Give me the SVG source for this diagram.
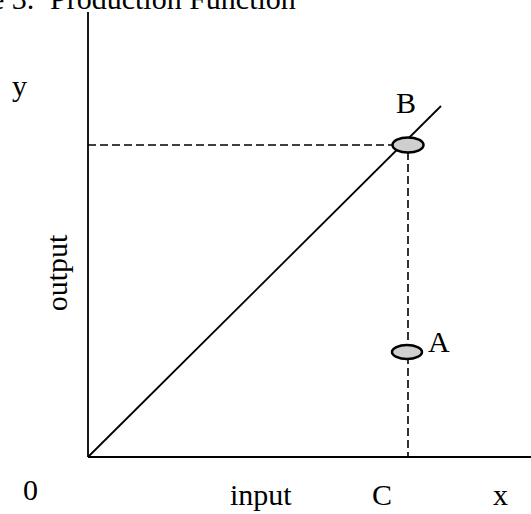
<svg xmlns="http://www.w3.org/2000/svg" width="531" height="514" viewBox="0 0 531 514">
<style>
text{font-family:"Liberation Serif","Times New Roman",serif;fill:#000;font-size:30px}
.ax{stroke:#000;stroke-width:1.8;fill:none}
.dash{stroke:#000;stroke-width:1.6;stroke-dasharray:8 4;fill:none}
.pt{fill:#cfcfcf;stroke:#000;stroke-width:2.5}
</style>
<rect width="531" height="514" fill="#fff"/>
<text x="-9" y="9">e 3.<tspan x="50">Production Function</tspan></text>
<g id="connectors">
<line class="ax" x1="88" y1="12" x2="88" y2="457"/>
<line class="ax" x1="88" y1="457" x2="531" y2="457"/>
<line class="ax" x1="88" y1="457" x2="441" y2="106"/>
<line class="dash" x1="88" y1="145" x2="394" y2="145"/>
<line class="dash" x1="408" y1="152" x2="408" y2="457"/>
</g>
<g id="B"><ellipse class="pt" cx="408" cy="145" rx="15.5" ry="7.5"/><text x="396" y="113">B</text></g>
<g id="A"><ellipse class="pt" cx="407" cy="352" rx="15" ry="7"/><text x="428" y="352">A</text></g>
<g id="labels">
<text x="12" y="96">y</text>
<text transform="translate(67,273) rotate(-90)" text-anchor="middle">output</text>
<text x="23" y="500">0</text>
<text x="230" y="505">input</text>
<text x="372" y="505">C</text>
<text x="493" y="505">x</text>
</g>
</svg>
